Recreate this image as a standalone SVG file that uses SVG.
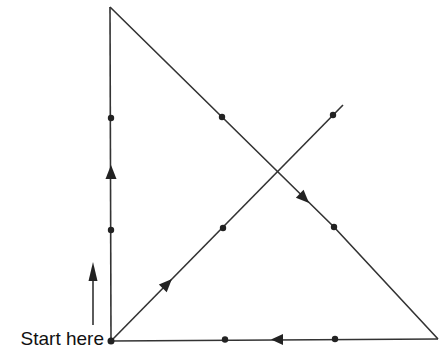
<svg xmlns="http://www.w3.org/2000/svg" width="440" height="352" viewBox="0 0 440 352">
<style>
.ln{stroke:#333;stroke-width:1.6;fill:none}
.dot{fill:#222}
.ah{fill:#222}
text{font-family:"Liberation Sans",Arial,sans-serif;font-size:19px;fill:#111}
</style>
<rect width="440" height="352" fill="#fff"/>
<g id="connectors">
<line class="ln" x1="111" y1="341" x2="110" y2="7"/>
<polyline class="ln" points="110,7 334,227 438,339"/>
<line class="ln" x1="438" y1="339" x2="111" y2="341"/>
<line class="ln" x1="111" y1="341" x2="343" y2="105"/>
<polygon class="ah" points="111,165 105.5,179 116.5,179"/>
<polygon class="ah" transform="translate(304,198) rotate(44.5)" points="7,0 -6,-5.5 -6,5.5"/>
<polygon class="ah" transform="translate(277,339.6) rotate(180)" points="6,0 -6,-5.5 -6,5.5"/>
<polygon class="ah" transform="translate(167,284) rotate(-45.5)" points="7,0 -6,-5.5 -6,5.5"/>
<line class="ln" x1="93" y1="325" x2="93" y2="275"/>
<polygon class="ah" points="93,262 88.5,281 97.5,281"/>
</g>
<g id="n-start"><circle class="dot" cx="111" cy="341" r="3.5"/></g>
<g id="n-l1"><circle class="dot" cx="111" cy="230" r="3.2"/></g>
<g id="n-l2"><circle class="dot" cx="111" cy="118" r="3.2"/></g>
<g id="n-d1"><circle class="dot" cx="222" cy="117" r="3.2"/></g>
<g id="n-d2"><circle class="dot" cx="334" cy="227" r="3.2"/></g>
<g id="n-m1"><circle class="dot" cx="223" cy="228" r="3.2"/></g>
<g id="n-m2"><circle class="dot" cx="333" cy="115" r="3.2"/></g>
<g id="n-b1"><circle class="dot" cx="225" cy="339.5" r="3.2"/></g>
<g id="n-b2"><circle class="dot" cx="335" cy="339" r="3.2"/></g>
<g id="label"><text x="104" y="345" text-anchor="end">Start here</text></g>
</svg>
